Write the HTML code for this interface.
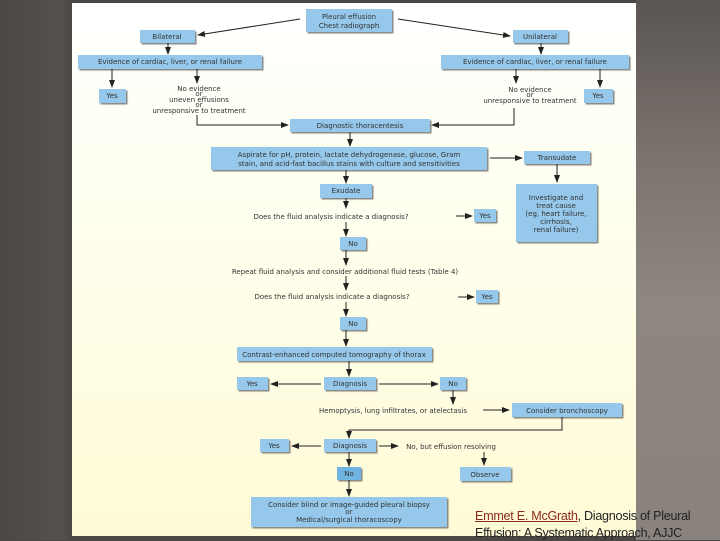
<!DOCTYPE html>
<html><head><meta charset="utf-8"><style>
html,body{margin:0;padding:0;width:720px;height:540px;overflow:hidden;background:#4b4846;}
#bg{position:absolute;left:0;top:0;width:720px;height:540px;background:linear-gradient(90deg,#4a4745 0,#55514e 60px,#4a4745 72px);}
#rt{position:absolute;left:636px;top:0;width:84px;height:540px;background:linear-gradient(180deg,#5a5552 0,#7a726d 150px,#8e8680 300px,#8a827c 540px);}
#panel{position:absolute;left:72px;top:3px;width:564px;height:533px;background:linear-gradient(180deg,#ffffff 0,#fffff0 200px,#fffbd6 533px);}
svg{position:absolute;left:0;top:0;}
text{font-family:"DejaVu Sans","Liberation Sans",sans-serif;font-size:7px;fill:#333;text-anchor:middle;}
#cap{position:absolute;left:475px;top:507px;font-family:"Liberation Sans",sans-serif;font-size:13px;line-height:17px;color:#222;letter-spacing:-0.3px;transform:scaleX(0.97);transform-origin:left;white-space:nowrap;}
#cap u{color:#8b2a1a;}
</style></head><body>
<div id="bg"></div><div id="rt"></div><div id="panel"></div>
<svg width="720" height="540" viewBox="0 0 720 540">
<defs>
<marker id="a" markerWidth="8" markerHeight="6" refX="7" refY="3" orient="auto" markerUnits="userSpaceOnUse"><path d="M0,0 L8,3 L0,6 Z" fill="#222"/></marker>
<filter id="s"><feDropShadow dx="1.5" dy="1.5" stdDeviation="0.6" flood-color="#555" flood-opacity="0.7"/></filter>
</defs>
<g fill="#95c8ea" filter="url(#s)">
<rect x="306" y="9" width="86" height="23"/>
<rect x="140" y="30" width="55" height="13"/>
<rect x="513" y="30" width="55" height="13"/>
<rect x="78" y="55" width="184" height="14"/>
<rect x="441" y="55" width="188" height="14"/>
<rect x="99" y="89" width="27" height="14"/>
<rect x="584" y="89" width="29" height="14"/>
<rect x="290" y="119" width="140" height="13"/>
<rect x="211" y="147" width="276" height="23"/>
<rect x="524" y="151" width="66" height="13"/>
<rect x="320" y="184" width="52" height="14"/>
<rect x="516" y="184" width="81" height="58"/>
<rect x="474" y="209" width="22" height="13"/>
<rect x="340" y="237" width="26" height="13"/>
<rect x="476" y="290" width="22" height="13"/>
<rect x="340" y="317" width="26" height="13"/>
<rect x="237" y="347" width="195" height="14"/>
<rect x="237" y="377" width="31" height="13"/>
<rect x="324" y="377" width="52" height="13"/>
<rect x="440" y="377" width="26" height="13"/>
<rect x="512" y="403" width="110" height="14"/>
<rect x="260" y="439" width="29" height="13"/>
<rect x="324" y="439" width="52" height="13"/>
<rect x="337" y="467" width="24" height="13" fill="#6fb4e2"/>
<rect x="460" y="467" width="51" height="14"/>
<rect x="251" y="497" width="196" height="30"/>
</g>
<g stroke="#222" stroke-width="1" fill="none" marker-end="url(#a)">
<line x1="300" y1="19" x2="198" y2="35"/>
<line x1="398" y1="19" x2="510" y2="36"/>
<line x1="168" y1="43" x2="168" y2="54"/>
<line x1="541" y1="43" x2="541" y2="54"/>
<line x1="112" y1="69" x2="112" y2="87"/>
<line x1="197" y1="69" x2="197" y2="83"/>
<line x1="516" y1="69" x2="516" y2="83"/>
<line x1="600" y1="69" x2="600" y2="87"/>
<polyline points="197,115 197,125 288,125"/>
<polyline points="514,108 514,125 432,125"/>
<line x1="350" y1="132" x2="350" y2="146"/>
<line x1="490" y1="158" x2="522" y2="158"/>
<line x1="557" y1="164" x2="557" y2="182"/>
<line x1="346" y1="170" x2="346" y2="183"/>
<line x1="346" y1="198" x2="346" y2="208"/>
<line x1="456" y1="216" x2="472" y2="216"/>
<line x1="346" y1="222" x2="346" y2="236"/>
<line x1="346" y1="250" x2="346" y2="265"/>
<line x1="346" y1="276" x2="346" y2="290"/>
<line x1="458" y1="297" x2="474" y2="297"/>
<line x1="346" y1="302" x2="346" y2="316"/>
<line x1="346" y1="330" x2="346" y2="346"/>
<line x1="349" y1="361" x2="349" y2="376"/>
<line x1="321" y1="384" x2="271" y2="384"/>
<line x1="379" y1="384" x2="438" y2="384"/>
<line x1="453" y1="390" x2="453" y2="404"/>
<line x1="483" y1="410" x2="509" y2="410"/>
<polyline points="562,417 562,430 349,430 349,438"/>
<line x1="321" y1="446" x2="292" y2="446"/>
<line x1="379" y1="446" x2="398" y2="446"/>
<line x1="484" y1="452" x2="484" y2="465"/>
<line x1="349" y1="452" x2="349" y2="466"/>
<line x1="349" y1="480" x2="349" y2="496"/>
</g>
<text x="349" y="19">Pleural effusion</text>
<text x="349" y="28">Chest radiograph</text>
<text x="167" y="39">Bilateral</text>
<text x="540" y="39">Unilateral</text>
<text x="170" y="64">Evidence of cardiac, liver, or renal failure</text>
<text x="535" y="64">Evidence of cardiac, liver, or renal failure</text>
<text x="112" y="98">Yes</text>
<text x="598" y="98">Yes</text>
<text x="199" y="91">No evidence</text>
<text x="199" y="96">or</text>
<text x="199" y="102">uneven effusions</text>
<text x="199" y="107">or</text>
<text x="199" y="113">unresponsive to treatment</text>
<text x="530" y="92">No evidence</text>
<text x="530" y="97">or</text>
<text x="530" y="103">unresponsive to treatment</text>
<text x="360" y="128">Diagnostic thoracentesis</text>
<text x="349" y="157">Aspirate for pH, protein, lactate dehydrogenase, glucose, Gram</text>
<text x="349" y="166">stain, and acid-fast bacillus stains with culture and sensitivities</text>
<text x="557" y="160">Transudate</text>
<text x="346" y="193">Exudate</text>
<text x="556" y="200">Investigate and</text>
<text x="556" y="208">treat cause</text>
<text x="556" y="216">(eg, heart failure,</text>
<text x="556" y="224">cirrhosis,</text>
<text x="556" y="232">renal failure)</text>
<text x="331" y="219">Does the fluid analysis indicate a diagnosis?</text>
<text x="485" y="218">Yes</text>
<text x="353" y="246">No</text>
<text x="345" y="274">Repeat fluid analysis and consider additional fluid tests (Table 4)</text>
<text x="332" y="299">Does the fluid analysis indicate a diagnosis?</text>
<text x="487" y="299">Yes</text>
<text x="353" y="326">No</text>
<text x="334" y="357">Contrast-enhanced computed tomography of thorax</text>
<text x="252" y="386">Yes</text>
<text x="350" y="386">Diagnosis</text>
<text x="453" y="386">No</text>
<text x="393" y="413">Hemoptysis, lung infiltrates, or atelectasis</text>
<text x="567" y="413">Consider bronchoscopy</text>
<text x="274" y="448">Yes</text>
<text x="350" y="448">Diagnosis</text>
<text x="451" y="449">No, but effusion resolving</text>
<text x="349" y="476">No</text>
<text x="485" y="477">Observe</text>
<text x="349" y="507">Consider blind or image-guided pleural biopsy</text>
<text x="349" y="514">or</text>
<text x="349" y="522">Medical/surgical thoracoscopy</text>
</svg>
<div id="cap"><u>Emmet E. McGrath</u>, Diagnosis of Pleural<br>Effusion: A Systematic Approach, AJJC</div>
</body></html>
